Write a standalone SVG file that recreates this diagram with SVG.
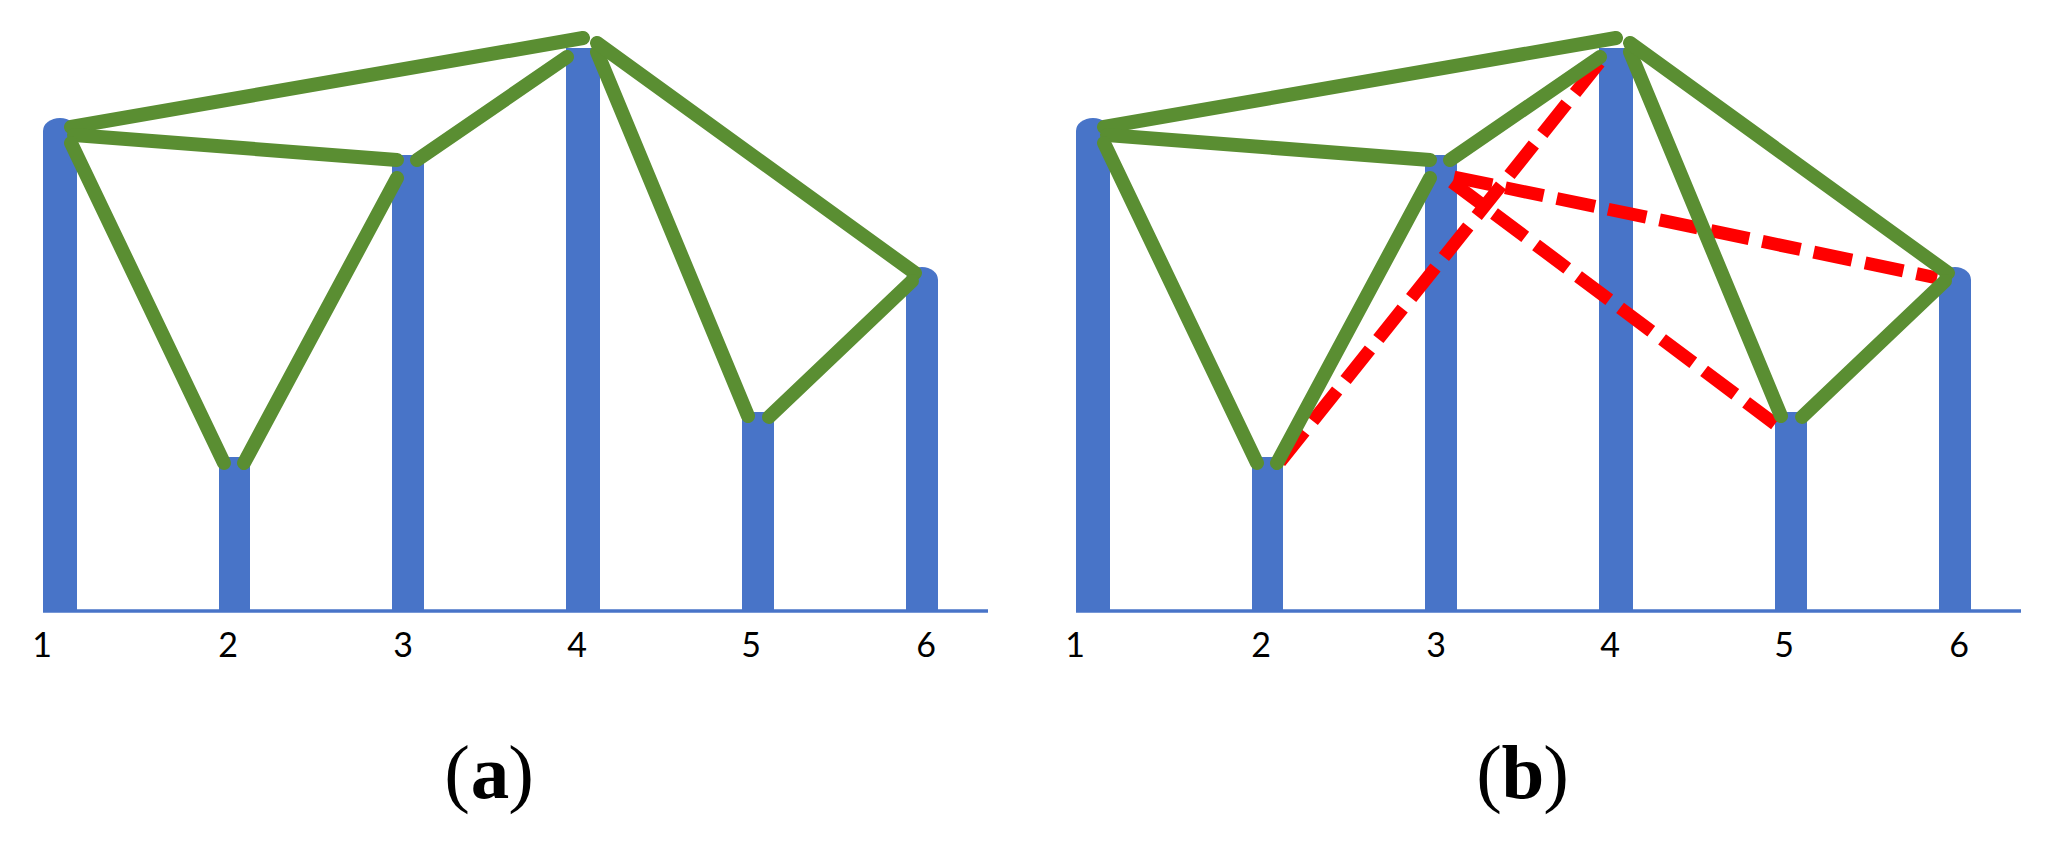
<svg xmlns="http://www.w3.org/2000/svg" width="2051" height="844" viewBox="0 0 2051 844">
<style>
.bar{fill:#4874C8}
.base{stroke:#4874C8;stroke-width:3.5;fill:none}
.g{stroke:#5A8E32;stroke-width:14;stroke-linecap:round;fill:none}
.r{stroke:#FF0000;stroke-width:13;stroke-dasharray:39 13.5;fill:none}
.lbl{font-family:Lato,"Liberation Sans",sans-serif;font-size:34px;fill:#000;text-anchor:middle}
.cap{font-family:"Liberation Serif",serif;font-size:77px;fill:#000;text-anchor:middle}
.capb{font-family:"Liberation Serif",serif;font-size:77px;font-weight:bold;fill:#000;text-anchor:middle}
</style>
<rect width="2051" height="844" fill="#fff"/>
<g id="panel-a">
  <line class="base" x1="43" y1="611" x2="988" y2="611"/>
  <g id="a-node1"><path class="bar" d="M43 612V131A17 13 0 0 1 77 131V612Z"/><text class="lbl" x="42" y="657">1</text></g>
  <g id="a-node2"><rect class="bar" x="219" y="457" width="31" height="155"/><text class="lbl" x="228" y="657">2</text></g>
  <g id="a-node3"><rect class="bar" x="392" y="155" width="32" height="457"/><text class="lbl" x="403" y="657">3</text></g>
  <g id="a-node4"><rect class="bar" x="566" y="48" width="34" height="564"/><text class="lbl" x="577" y="657">4</text></g>
  <g id="a-node5"><rect class="bar" x="742" y="412" width="32" height="200"/><text class="lbl" x="751" y="657">5</text></g>
  <g id="a-node6"><path class="bar" d="M906 612V280A16 13 0 0 1 938 280V612Z"/><text class="lbl" x="926" y="657">6</text></g>
  <g id="a-connectors">
    <line class="g" x1="71" y1="127" x2="583" y2="38"/>
    <line class="g" x1="74" y1="135" x2="397" y2="160"/>
    <line class="g" x1="71" y1="143" x2="224" y2="463"/>
    <line class="g" x1="397" y1="178" x2="244" y2="463"/>
    <line class="g" x1="417" y1="160" x2="567" y2="57"/>
    <line class="g" x1="597" y1="52" x2="748" y2="416"/>
    <line class="g" x1="597" y1="43" x2="915" y2="273"/>
    <line class="g" x1="769" y1="417" x2="912" y2="281"/>
  </g>
  <g id="a-caption">
    <text class="cap" x="457" y="798">(</text>
    <text class="capb" x="490" y="798">a</text>
    <text class="cap" x="521" y="798">)</text>
  </g>
</g>
<g id="panel-b">
  <line class="base" x1="1076" y1="611" x2="2021" y2="611"/>
  <g id="b-node1"><path class="bar" d="M1076 612V131A17 13 0 0 1 1110 131V612Z"/><text class="lbl" x="1075" y="657">1</text></g>
  <g id="b-node2"><rect class="bar" x="1252" y="457" width="31" height="155"/><text class="lbl" x="1261" y="657">2</text></g>
  <g id="b-node3"><rect class="bar" x="1425" y="155" width="32" height="457"/><text class="lbl" x="1436" y="657">3</text></g>
  <g id="b-node4"><rect class="bar" x="1599" y="48" width="34" height="564"/><text class="lbl" x="1610" y="657">4</text></g>
  <g id="b-node5"><rect class="bar" x="1775" y="412" width="32" height="200"/><text class="lbl" x="1784" y="657">5</text></g>
  <g id="b-node6"><path class="bar" d="M1939 612V280A16 13 0 0 1 1971 280V612Z"/><text class="lbl" x="1959" y="657">6</text></g>
  <g id="b-connectors">
    <line class="r" x1="1280" y1="462" x2="1603" y2="58"/>
    <line class="r" x1="1454" y1="177" x2="1937" y2="278"/>
    <line class="r" x1="1452" y1="182" x2="1775" y2="424"/>
    <line class="g" x1="1104" y1="127" x2="1616" y2="38"/>
    <line class="g" x1="1107" y1="135" x2="1430" y2="160"/>
    <line class="g" x1="1104" y1="143" x2="1257" y2="463"/>
    <line class="g" x1="1430" y1="178" x2="1277" y2="463"/>
    <line class="g" x1="1450" y1="160" x2="1600" y2="57"/>
    <line class="g" x1="1630" y1="52" x2="1781" y2="416"/>
    <line class="g" x1="1630" y1="43" x2="1948" y2="273"/>
    <line class="g" x1="1802" y1="417" x2="1945" y2="281"/>
  </g>
  <g id="b-caption">
    <text class="cap" x="1489" y="798">(</text>
    <text class="capb" x="1523" y="798">b</text>
    <text class="cap" x="1556" y="798">)</text>
  </g>
</g>
</svg>
